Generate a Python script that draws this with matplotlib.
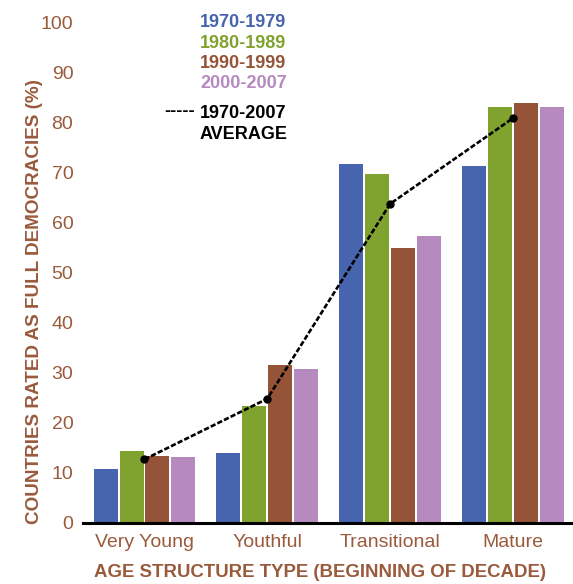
import matplotlib
matplotlib.use('Agg')
import matplotlib.pyplot as plt
import numpy as np

plt.rcParams['font.family'] = ['Liberation Sans', 'DejaVu Sans']

kategorie = ['Very Young', 'Youthful', 'Transitional', 'Mature']
dekady = ['1970-1979', '1980-1989', '1990-1999', '2000-2007']
d1970 = [10.8, 14.0, 71.7, 71.3]
d1980 = [14.4, 23.4, 69.7, 83.1]
d1990 = [13.4, 31.5, 54.9, 83.8]
d2000 = [13.2, 30.7, 57.3, 83.1]
srednia = [12.7, 24.8, 63.7, 80.8]
kolory = ['#4764ae', '#80a22e', '#955437', '#b68abf']
brazowy = '#9a5a3c'

fig = plt.figure(figsize=(5.73, 5.84), dpi=100)
ax = fig.add_axes([0.145, 0.1045, 0.853, 0.8578])

x = np.arange(len(kategorie))
krok = 0.211
szer = 0.195
for i, wart in enumerate([d1970, d1980, d1990, d2000]):
    ax.bar(x + (i - 1.5) * krok, wart, width=szer, color=kolory[i], zorder=2)

ax.plot(x, srednia, color='black', lw=1.9, linestyle=(0, (2, 0.8)),
        marker='o', markersize=5, zorder=3)

ax.set_xlim(-0.5, 3.48)
ax.set_ylim(0, 100)
ax.set_yticks(range(0, 101, 10))
ax.set_xticks(x)
ax.set_xticklabels(kategorie)
ax.tick_params(axis='both', length=0, labelsize=14, labelcolor=brazowy)
ax.tick_params(axis='x', pad=8)
ax.tick_params(axis='y', pad=7)

for s in ['top', 'right', 'left']:
    ax.spines[s].set_visible(False)
ax.spines['bottom'].set_linewidth(2.2)
ax.spines['bottom'].set_zorder(4)

ax.set_ylabel('COUNTRIES RATED AS FULL DEMOCRACIES (%)', fontsize=13.6,
              fontweight='bold', color=brazowy)
ax.yaxis.set_label_coords(-0.082, 0.443)
ax.set_xlabel('AGE STRUCTURE TYPE (BEGINNING OF DECADE)', fontsize=13.4,
              fontweight='bold', color=brazowy)
ax.xaxis.set_label_coords(0.485, -0.082)

# legenda jako tekst
ys = [1.0, 0.958, 0.918, 0.878]
for d, c, yy in zip(dekady, kolory, ys):
    ax.text(0.239, yy, d, transform=ax.transAxes, color=c, fontsize=13,
            fontweight='bold', va='center', ha='left')
ax.text(0.166, 0.821, '-----', transform=ax.transAxes, color='black',
        fontsize=13, fontweight='bold', va='center', ha='left')
ax.text(0.239, 0.834, '1970-2007\nAVERAGE', transform=ax.transAxes,
        color='black', fontsize=13, fontweight='bold', va='top',
        ha='left', linespacing=1.3)

fig.savefig('out.png', dpi=100)
